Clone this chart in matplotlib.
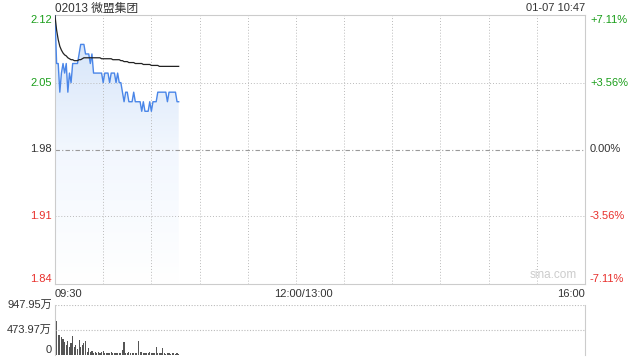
import numpy as np
import matplotlib.pyplot as plt
from matplotlib.transforms import blended_transform_factory, offset_copy

plt.rcParams['font.family'] = ['Liberation Sans', 'Noto Sans CJK SC', 'DejaVu Sans']

# --- data ---
title = '02013 微盟集团'
stamp = '01-07 10:47'
prev_close = 1.98
limit_pct = 7.11

price = [2.12, 2.07, 2.07, 2.04, 2.06, 2.07, 2.06, 2.07, 2.04, 2.06,
         2.05, 2.07, 2.07, 2.07, 2.07, 2.08, 2.09, 2.09, 2.09, 2.08,
         2.08, 2.08, 2.07, 2.08, 2.06, 2.06, 2.06, 2.06, 2.06, 2.06,
         2.05, 2.06, 2.06, 2.06, 2.05, 2.06, 2.06, 2.06, 2.05, 2.06,
         2.05, 2.05, 2.04, 2.03, 2.04, 2.04, 2.03, 2.03, 2.03, 2.04,
         2.03, 2.03, 2.03, 2.03, 2.02, 2.03, 2.02, 2.02, 2.02, 2.03,
         2.02, 2.03, 2.03, 2.03, 2.04, 2.04, 2.04, 2.04, 2.04, 2.04,
         2.03, 2.04, 2.04, 2.04, 2.04, 2.04, 2.03, 2.03]

avg_price = [2.120, 2.105, 2.095, 2.088, 2.084, 2.081, 2.079, 2.078, 2.076, 2.075,
             2.074, 2.074, 2.073, 2.073, 2.073, 2.074, 2.074, 2.075, 2.076, 2.076,
             2.076, 2.076, 2.076, 2.076, 2.076, 2.076, 2.076, 2.076, 2.076, 2.075,
             2.075, 2.075, 2.075, 2.075, 2.075, 2.075, 2.074, 2.074, 2.074, 2.074,
             2.074, 2.073, 2.073, 2.072, 2.072, 2.072, 2.071, 2.071, 2.071, 2.071,
             2.070, 2.070, 2.070, 2.070, 2.070, 2.069, 2.069, 2.069, 2.069, 2.069,
             2.068, 2.068, 2.068, 2.068, 2.068, 2.067, 2.067, 2.067, 2.067, 2.067,
             2.067, 2.067, 2.067, 2.067, 2.067, 2.067, 2.067, 2.067]

# volume per minute, in 万
volume = [947.95, 645, 380, 380, 340, 300, 245, 190, 265, 160,
          225, 360, 160, 190, 120, 285, 160, 190, 225, 265,
          60, 130, 50, 70, 40, 60, 45, 55, 40, 50,
          80, 45, 35, 40, 30, 57, 35, 30, 40, 35,
          30, 45, 95, 245, 40, 30, 50, 35, 30, 40,
          45, 40, 265, 60, 50, 35, 30, 40, 30, 50,
          35, 30, 40, 160, 35, 30, 40, 140, 30, 25,
          35, 30, 25, 40, 30, 25, 30, 20]

price_ticks = ['2.12', '2.05', '1.98', '1.91', '1.84']
pct_ticks = ['+7.11%', '+3.56%', '0.00%', '-3.56%', '-7.11%']
vol_ticks = ['947.95万', '473.97万', '0']
time_labels = ['09:30', '12:00/13:00', '16:00']
time_pos = [0, 150, 330]
total_minutes = 330

green = '#1a9e1a'
red = '#e8302c'
dark = '#333333'
grid = '#bbbbbb'
frame = '#cccccc'

fig = plt.figure(figsize=(6.4, 3.6), dpi=100)
ax = fig.add_axes([55 / 640, 1 - 284 / 360, 530 / 640, 269 / 360])
axv = fig.add_axes([55 / 640, 1 - 355 / 360, 530 / 640, 50 / 360])

lo = prev_close * (1 - limit_pct / 100)
hi = prev_close * (1 + limit_pct / 100)
m = np.arange(len(price))

# price panel
ax.set_xlim(0, total_minutes)
ax.set_ylim(lo, hi)
for s in ax.spines.values():
    s.set_color(frame)
    s.set_linewidth(0.8)
ax.set_xticks([])
ax.set_yticks([])

for t in range(30, total_minutes, 30):
    ax.axvline(t, color=grid, lw=0.7, ls=(0, (1, 2)))
for v in [float(price_ticks[1]), float(price_ticks[3])]:
    ax.axhline(v, color=grid, lw=0.7, ls=(0, (1, 2)))
ax.axhline(prev_close, color='#999999', lw=0.8, ls=(0, (4, 2, 1, 2)))

# gradient fill under the price line
poly = ax.fill_between(m, price, lo, color='none')
grad = np.linspace(0, 1, 256).reshape(-1, 1)
cmap = plt.matplotlib.colors.LinearSegmentedColormap.from_list(
    'g', ['#ffffff', '#f2f7fe', '#d0e1f8'])
im = ax.imshow(grad, cmap=cmap, aspect='auto', origin='lower',
               extent=[0, m[-1], lo, max(price)], zorder=1)
im.set_clip_path(poly.get_paths()[0], transform=ax.transData)

ax.plot(m, price, color='#4a86e8', lw=1.0, zorder=3)
ax.plot(m, avg_price, color='#222222', lw=0.9, zorder=3)

trans_l = blended_transform_factory(fig.transFigure, ax.transData)
levels = [float(p) for p in price_ticks]
colors = [green, green, dark, red, red]
vas = ['top', 'center', 'center', 'center', 'bottom']
for lv, pl, cl, c, va in zip(levels, price_ticks, pct_ticks, colors, vas):
    yv = lv
    if va == 'top':
        yv = hi
    elif va == 'bottom':
        yv = lo
    ax.text(52 / 640, yv, pl, transform=trans_l, ha='right', va=va,
            color=c, fontsize=8)
    ax.text(590 / 640, yv, cl, transform=trans_l, ha='left', va=va,
            color=c, fontsize=8)

fig.text(55 / 640, 1 - 9 / 360, title, ha='left', va='center',
         color=dark, fontsize=8.5)
fig.text(585 / 640, 1 - 8 / 360, stamp, ha='right', va='center',
         color=dark, fontsize=8)
ax.text(0.985, 0.012, 'sina.com', transform=ax.transAxes, ha='right',
        va='bottom', color='#cccccc', fontsize=8.5)

trans_t = blended_transform_factory(ax.transData, fig.transFigure)
for pos, lab in zip(time_pos, time_labels):
    if pos == 0:
        ha, tr = 'left', trans_t
    elif pos == total_minutes:
        ha, tr = 'right', trans_t
    else:
        ha = 'center'
        tr = offset_copy(trans_t, fig=fig, x=7, units='dots')
    ax.text(pos, 1 - 294 / 360, lab, transform=tr, ha=ha, va='center',
            color=dark, fontsize=8)

# volume panel
vmax = float(vol_ticks[0][:-1])
axv.set_xlim(0, total_minutes)
axv.set_ylim(0, vmax)
axv.bar(m, volume, width=0.7, color='#555555', align='center')
axv.axhline(vmax, color=grid, lw=0.8, ls=(0, (1, 1.5)))
axv.axhline(vmax / 2, color=grid, lw=0.8, ls=(0, (1, 1.5)))
for k in ['top', 'bottom']:
    axv.spines[k].set_visible(False)
for k in ['left', 'right']:
    axv.spines[k].set_color(frame)
    axv.spines[k].set_linewidth(0.8)
axv.set_xticks([])
axv.set_yticks([])
trans_v = blended_transform_factory(fig.transFigure, axv.transData)
vvals = [vmax, vmax / 2, 0]
vva = ['center', 'center', 'bottom']
for vv, lab, va in zip(vvals, vol_ticks, vva):
    axv.text(52 / 640, vv, lab, transform=trans_v, ha='right', va=va,
             color=dark, fontsize=8)

fig.savefig('out.png', dpi=100)
